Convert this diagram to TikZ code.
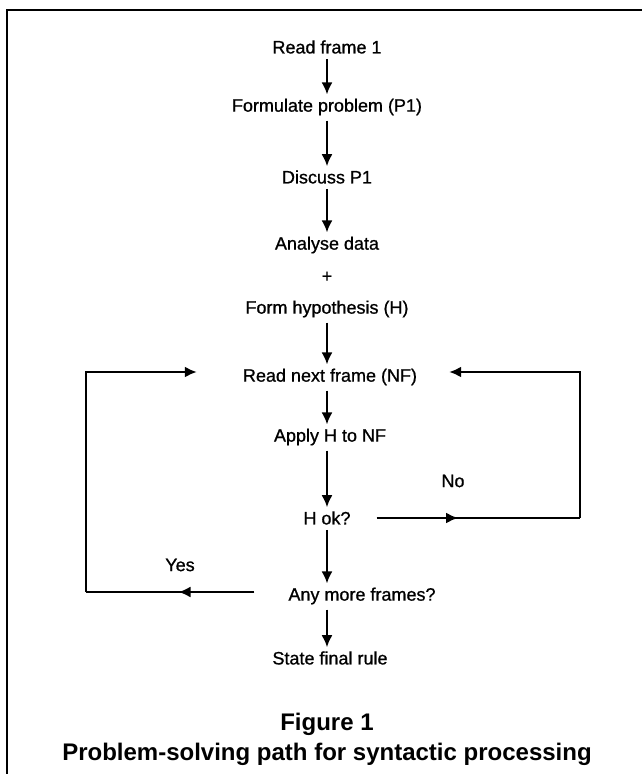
\documentclass[tikz,border=0pt]{standalone}
\usepackage{fontspec}
\setmainfont{Liberation Sans}
\newfontfamily\medfont[FakeBold=0.9]{Liberation Sans}
\usetikzlibrary{arrows.meta,decorations.markings}
\begin{document}
\begin{tikzpicture}[x=1pt,y=1pt,
  txt/.style={font=\medfont\fontsize{18}{21}\selectfont, inner sep=2pt},
  captxt/.style={font=\bfseries\fontsize{24}{28}\selectfont, inner sep=1pt},
  arr/.style={line width=2pt, -{Latex[length=12pt,width=11pt]}, shorten <=3pt, shorten >=2pt},
  ln/.style={line width=2pt},
  midarr/.style={postaction={decorate}, decoration={markings, mark=at position #1 with {\arrow{Latex[length=12pt,width=11pt]}}}},
]
\useasboundingbox (0,0) rectangle (642,-774);
\draw[line width=2.2pt] (7,-800) -- (7,-10) -- (660,-10);

\coordinate (col) at (327,0);
\node[txt] (n1) at (327,-47) {Read frame 1};
\node[txt] (n2) at (327,-107) {Formulate problem (P1)};
\node[txt] (n3) at (327,-177) {Discuss P1};
\node[txt] (n4) at (327,-245) {Analyse data};
\node[txt] (plus) at (327,-277) {+};
\node[txt] (n5) at (327,-309) {Form hypothesis (H)};
\node[txt] (n6) at (330,-377) {Read next frame (NF)};
\node[txt] (n7) at (330,-437) {Apply H to NF};
\node[txt] (n8) at (327,-518) {H ok?};
\node[txt] (n9) at (362,-596) {Any more frames?};
\node[txt] (n10) at (330,-658) {State final rule};
\node[captxt] (f1) at (327,-724) {Figure 1};
\node[captxt] (f2) at (327,-754) {Problem-solving path for syntactic processing};

\node[txt] (no) at (453,-481) {No};
\node[txt] (yes) at (180,-565) {Yes};

\draw[arr] (n1) -- (n2);
\draw[arr] (n2) -- (n3);
\draw[arr] (n3) -- (n4);
\draw[arr] (n5) -- (n6.north -| col);
\draw[arr] (n6.south -| col) -- (n7.north -| col);
\draw[arr] (n7.south -| col) -- (n8);
\draw[arr] (n8) -- (n9.north -| col);
\draw[arr] (n9.south -| col) -- (n10.north -| col);

\coordinate (rb) at (580,-518);
\draw[ln, midarr=0.4] ([xshift=24pt]n8.east) -- (rb);
\draw[arr, shorten <=0pt] (rb) |- ([xshift=28pt,yshift=5pt]n6.east);

\coordinate (lb) at (86,-592);
\draw[ln, midarr=0.45] ([xshift=-32pt,yshift=4pt]n9.west) -- (lb);
\draw[arr, shorten <=0pt] (lb) |- ([xshift=-42pt,yshift=5pt]n6.west);
\end{tikzpicture}
\end{document}
